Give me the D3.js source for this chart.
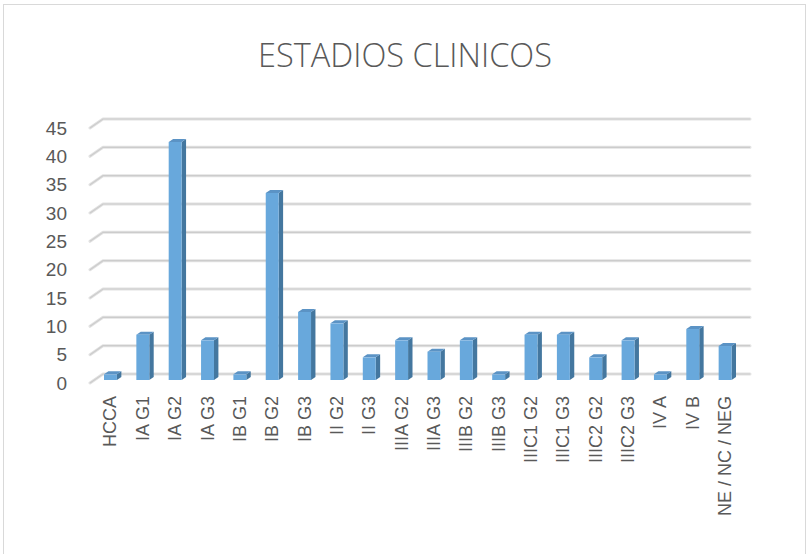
<!DOCTYPE html>
<html>
<head>
<meta charset="utf-8">
<script src="https://cdn.jsdelivr.net/npm/d3@7"></script>
<style>
  html, body { margin: 0; padding: 0; background: #fff; }
  svg { display: block; }
</style>
</head>
<body>
<svg id="chart" width="807" height="554"></svg>
<script>
const title = "ESTADIOS CLINICOS";
const categories = ["HCCA", "IA G1", "IA G2", "IA G3", "IB G1", "IB G2", "IB G3", "II G2", "II G3",
  "IIIA G2", "IIIA G3", "IIIB G2", "IIIB G3", "IIIC1 G2", "IIIC1 G3", "IIIC2 G2", "IIIC2 G3",
  "IV A", "IV B", "NE / NC / NEG"];
const values = [1, 8, 42, 7, 1, 33, 12, 10, 4, 7, 5, 7, 1, 8, 8, 4, 7, 1, 9, 6];
const yTicks = [0, 5, 10, 15, 20, 25, 30, 35, 40, 45];

const svg = d3.select("#chart");
const textColor = "#595959";
const font = "'Liberation Sans', Arial, sans-serif";

// chart border
svg.append("rect").attr("x", 3.5).attr("y", 4.5).attr("width", 802).attr("height", 570)
  .attr("fill", "#fff").attr("stroke", "#d9d9d9").attr("stroke-width", 1);

// title (fit to the reference width)
const tt = svg.append("text").attr("x", 405).attr("y", 67).attr("text-anchor", "middle")
  .attr("font-family", "'Open Sans', 'Liberation Sans', sans-serif").attr("font-weight", 300)
  .attr("font-size", 29).attr("fill", textColor).text(title);
const tw = tt.node().getComputedTextLength();
if (tw > 0) tt.attr("font-size", 29 * 294 / tw);

// scales for the front plane
const x = d3.scaleBand().domain(categories).range([90, 737]);
const y = d3.scaleLinear().domain([0, 45]).range([383, 128]);
const DX = 13, DY = -9;
const proj = (px, py, z) => [px + DX * z, py + DY * z];

// gridlines (side wall diagonal + back wall)
const grid = svg.append("g");
yTicks.forEach(t => {
  const a = proj(x.range()[0], y(t), 0);
  const b = proj(x.range()[0], y(t), 1);
  const c = proj(x.range()[1], y(t), 1);
  const path = `M${a[0]},${a[1]}L${b[0]},${b[1]}L${c[0]},${c[1]}`;
  grid.append("path").attr("d", path).attr("fill", "none")
    .attr("stroke", "#e2e2e2").attr("stroke-width", 3).attr("stroke-linejoin", "round").attr("stroke-linecap", "round");
  grid.append("path").attr("d", path).attr("fill", "none")
    .attr("stroke", "#cccccc").attr("stroke-width", 1.2);
});

// y tick labels
svg.append("g").selectAll("text").data(yTicks).join("text")
  .attr("x", 67).attr("y", d => y(d)).attr("dy", "0.35em").attr("text-anchor", "end")
  .attr("font-family", font).attr("font-size", 19).attr("fill", textColor).text(d => d);

// bars
const z1 = 0.33, z2 = 0.67;
const bw = x.bandwidth();
const bars = svg.append("g");
categories.forEach((c, i) => {
  const v = values[i];
  const xl = x(c) + bw * 0.3, xr = x(c) + bw * 0.7;
  const yt = y(v), yb = y(0);
  const fTL = proj(xl, yt, z1), fTR = proj(xr, yt, z1), fBR = proj(xr, yb, z1), fBL = proj(xl, yb, z1);
  const bTL = proj(xl, yt, z2), bTR = proj(xr, yt, z2), bBR = proj(xr, yb, z2);
  const poly = pts => "M" + pts.map(p => p.join(",")).join("L") + "Z";
  bars.append("path").attr("d", poly([fTR, bTR, bBR, fBR])).attr("fill", "#44779f");
  bars.append("path").attr("d", poly([fTL, bTL, bTR, fTR])).attr("fill", "#5b93c5");
  bars.append("path").attr("d", poly([fTL, fTR, fBR, fBL])).attr("fill", "#68a8dc");
});

// x labels (rotated)
svg.append("g").selectAll("text").data(categories).join("text")
  .attr("transform", d => `translate(${x(d) + bw / 2 + 4},396) rotate(-90)`)
  .attr("dy", "0.35em").attr("text-anchor", "end")
  .attr("font-family", font).attr("font-size", 18).attr("fill", textColor).text(d => d);
</script>
</body>
</html>
